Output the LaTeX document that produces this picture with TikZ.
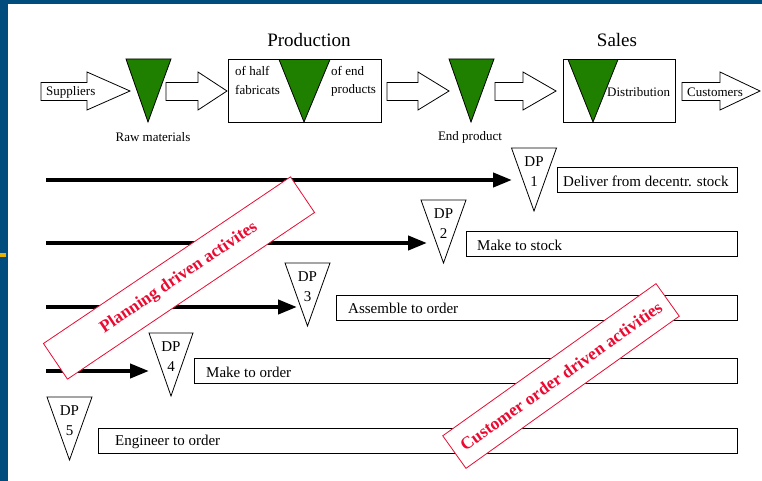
\documentclass[tikz,border=0pt]{standalone}
\usepackage{fontspec}
\setmainfont{Liberation Serif}
\usetikzlibrary{arrows.meta}
\definecolor{frameblue}{RGB}{0,76,124}
\definecolor{markyellow}{RGB}{232,176,0}
\definecolor{stockgreen}{RGB}{31,128,0}
\definecolor{stampred}{RGB}{235,10,50}
\newcommand\fsz[1]{\fontsize{#1}{#1}\selectfont}
\begin{document}
\begin{tikzpicture}[x=1pt,y=-1pt,
  blk/.style={draw=black,fill=white,line width=0.8pt,line join=miter},
  greentri/.style={draw=black,fill=stockgreen,line width=0.8pt},
  dptri/.style={draw=black,fill=white,line width=0.8pt},
  topbox/.style={draw=black,fill=white,line width=0.9pt,minimum width=#1,minimum height=63pt,inner sep=0pt,anchor=north west},
  rowbox/.style={draw=black,fill=white,line width=1.1pt,minimum width=#1,minimum height=25pt,inner sep=0pt,anchor=north west},
  smalltxt/.style={font=\fsz{13},inner sep=0pt},
  rowtxt/.style={font=\fsz{15},inner sep=0pt,anchor=west},
  dptxt/.style={font=\fsz{15},inner sep=0pt},
  titletxt/.style={font=\fsz{19},inner sep=0pt},
  flow/.style={line width=4pt,-{Triangle[length=19pt,width=14pt]}},
  stamp/.style={draw=stampred,fill=white,line width=0.8pt,text=stampred,font=\bfseries\fsz{17.5},inner sep=0pt}
]
\useasboundingbox (0,0) rectangle (762,481);
\fill[white] (0,0) rectangle (762,481);
\fill[frameblue] (0,0) rectangle (8,481);
\fill[frameblue] (0,0) rectangle (762,4);
\fill[markyellow] (0,253) rectangle (6,257);

% titles
\node[titletxt] (prodtitle) at (309,40) {Production};
\node[titletxt] (salestitle) at (617,40) {Sales};

% top boxes
\node[topbox=153pt] (prodbox) at (228,59) {};
\node[topbox=112pt] (salesbox) at (563,59) {};

% block arrows
\draw[blk] (41,82.5) -- (87,82.5) -- (87,72) -- (130,91) -- (87,110) -- (87,100.5) -- (41,100.5) -- cycle;
\draw[blk] (166,82.5) -- (198,82.5) -- (198,72) -- (227,91) -- (198,110) -- (198,100.5) -- (166,100.5) -- cycle;
\draw[blk] (387,82.5) -- (418,82.5) -- (418,72) -- (449,91) -- (418,110) -- (418,100.5) -- (387,100.5) -- cycle;
\draw[blk] (495,82.5) -- (523,82.5) -- (523,72) -- (556,91) -- (523,110) -- (523,100.5) -- (495,100.5) -- cycle;
\draw[blk] (682,82.5) -- (720,82.5) -- (720,72) -- (760,91) -- (720,110) -- (720,100.5) -- (682,100.5) -- cycle;

% green stock triangles
\draw[greentri] (126,59) -- (171,59) -- (148,122) -- cycle;
\draw[greentri] (279,59.5) -- (330,59.5) -- (304,122) -- cycle;
\draw[greentri] (449,59) -- (494,59) -- (471,122) -- cycle;
\draw[greentri] (568,59.5) -- (618,59.5) -- (593,122) -- cycle;

% top texts
\node[smalltxt,anchor=west] (supp) at (46,92) {Suppliers};
\node[smalltxt,anchor=west] (cust) at (687,92) {Customers};
\node[smalltxt,anchor=west] (distr) at (607,92) {Distribution};
\node[smalltxt,anchor=west] (half1) at (235,71) {of half};
\node[smalltxt,anchor=west] (half2) at (235,90) {fabricats};
\node[smalltxt,anchor=west] (end1) at (331,71) {of end};
\node[smalltxt,anchor=west] (end2) at (331,90) {products};
\node[smalltxt] (raw) at (153,137) {Raw materials};
\node[smalltxt] (endp) at (470,137) {End product};

% flow lines
\coordinate (s1) at (46,180); \coordinate (t1) at (512,180);
\coordinate (s2) at (46,243); \coordinate (t2) at (427,243);
\coordinate (s3) at (46,307); \coordinate (t3) at (297,307);
\coordinate (s4) at (46,371); \coordinate (t4) at (149,371);
\draw[flow] (s1) -- (t1);
\draw[flow] (s2) -- (t2);
\draw[flow] (s3) -- (t3);
\draw[flow] (s4) -- (t4);

% DP triangles
\draw[dptri] (511.5,148) -- (556.5,148) -- (534,211) -- cycle;
\node[dptxt] (dp1a) at (534,162) {DP}; \node[dptxt] (dp1b) at (534,182) {1};
\draw[dptri] (421,200) -- (466,200) -- (443.5,263) -- cycle;
\node[dptxt] (dp2a) at (443.5,214) {DP}; \node[dptxt] (dp2b) at (443.5,234) {2};
\draw[dptri] (285,263) -- (330,263) -- (307.5,326) -- cycle;
\node[dptxt] (dp3a) at (307.5,277) {DP}; \node[dptxt] (dp3b) at (307.5,297) {3};
\draw[dptri] (149,333) -- (193,333) -- (171,396) -- cycle;
\node[dptxt] (dp4a) at (171,347) {DP}; \node[dptxt] (dp4b) at (171,367) {4};
\draw[dptri] (47,397) -- (92,397) -- (69.5,460) -- cycle;
\node[dptxt] (dp5a) at (69.5,411) {DP}; \node[dptxt] (dp5b) at (69.5,431) {5};

% row boxes
\node[rowbox=180pt] (b1) at (557,167) {};
\node[rowtxt] (b1t) at (563,181) {Deliver from decentr. stock};
\node[rowbox=271pt] (b2) at (466,231) {};
\node[rowtxt] (b2t) at (477,245) {Make to stock};
\node[rowbox=401pt] (b3) at (336,294.5) {};
\node[rowtxt] (b3t) at (348,308.5) {Assemble to order};
\node[rowbox=543pt] (b4) at (194,358) {};
\node[rowtxt] (b4t) at (206,372) {Make to order};
\node[rowbox=639pt] (b5) at (98,428) {};
\node[rowtxt] (b5t) at (115,442) {Engineer to order};

% stamps
\node[stamp,minimum width=298pt,minimum height=43pt,rotate=34] (plan) at (179,278) {Planning driven activites};
\node[stamp,minimum width=262pt,minimum height=40pt,rotate=35.5] (custord) at (561,376) {Customer order driven activities};
\end{tikzpicture}
\end{document}
